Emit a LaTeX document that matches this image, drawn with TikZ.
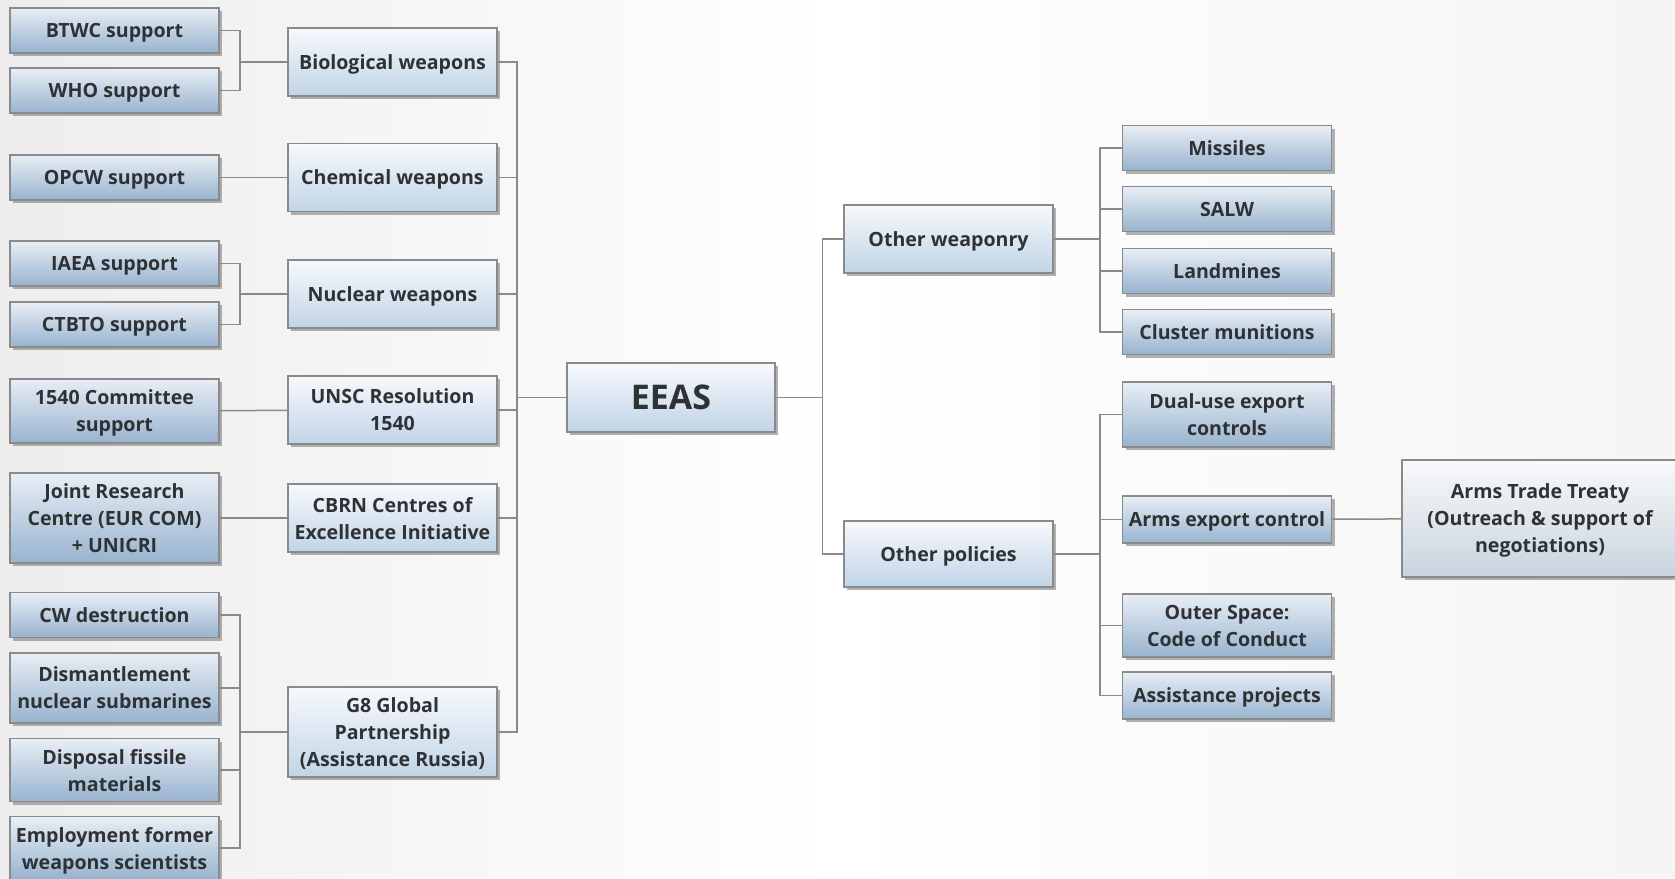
\documentclass[tikz,border=0pt]{standalone}
\usepackage{fontspec}
\setmainfont{Open Sans}
\usetikzlibrary{shadows}
\definecolor{eeasLine}{HTML}{8A8A8A}
\definecolor{eeasText}{HTML}{2F3235}
\definecolor{leafTop}{HTML}{E8EEF5}
\definecolor{leafBot}{HTML}{98B3CF}
\definecolor{midTop}{HTML}{F7F9FC}
\definecolor{midBot}{HTML}{C1D4E7}
\definecolor{treatyTop}{HTML}{F8F9FA}
\definecolor{treatyBot}{HTML}{C9D4DE}
\tikzset{
  box/.style={draw=eeasLine, line width=1.5pt, align=center, inner sep=2pt,
    font=\fontsize{19.6}{27}\selectfont\bfseries, text=eeasText, text depth=0pt,
    drop shadow={shadow xshift=3pt, shadow yshift=-3pt, fill=black!55, opacity=.55}},
  leaf/.style={box, top color=leafTop, bottom color=leafBot,
    minimum width=209pt, minimum height=45pt},
  mid/.style={box, top color=midTop, bottom color=midBot,
    minimum width=209pt, minimum height=68pt},
  treaty/.style={box, top color=treatyTop, bottom color=treatyBot,
    minimum width=276pt, minimum height=117pt},
  link/.style={draw=eeasLine, line width=1.5pt},
}

\begin{document}
\begin{tikzpicture}[x=1pt, y=-1pt]

  % ---- Background --------------------------------------------------------
  \shade[left color=black!7, right color=black!4, middle color=white]
    (0,0) rectangle (1675,878);
  \useasboundingbox (0,0) rectangle (1675,878);

  % ---- Left leaves -------------------------------------------------------
  \node[leaf] (btwc)  at (114.5,30.5)  {BTWC support};
  \node[leaf] (who)   at (114.5,90.5)  {WHO support};
  \node[leaf] (opcw)  at (114.5,177.5) {OPCW support};
  \node[leaf] (iaea)  at (114.5,263.5) {IAEA support};
  \node[leaf] (ctbto) at (114.5,324.5) {CTBTO support};
  \node[leaf, minimum height=64pt] (c1540) at (114.5,411) {1540 Committee\\support};
  \node[leaf, minimum height=90pt] (jrc)   at (114.5,518) {Joint Research\\Centre (EUR COM)\\+ UNICRI};
  \node[leaf] (cwd)   at (114.5,615)   {CW destruction};
  \node[leaf, minimum height=70pt] (dism)  at (114.5,688) {Dismantlement\\nuclear submarines};
  \node[leaf, minimum height=63pt] (disp)  at (114.5,770) {Disposal fissile\\materials};
  \node[leaf, minimum height=63pt] (emp)   at (114.5,848) {Employment former\\weapons scientists};

  % ---- Weapon groups -----------------------------------------------------
  \node[mid] (bio)  at (392.5,62)    {Biological weapons};
  \node[mid] (chem) at (392.5,177.5) {Chemical weapons};
  \node[mid] (nuc)  at (392.5,294)   {Nuclear weapons};
  \node[mid] (unsc) at (392.5,410)   {UNSC Resolution\\1540};
  \node[mid] (cbrn) at (392.5,518)   {CBRN Centres of\\Excellence Initiative};
  \node[mid, minimum height=90pt] (g8) at (392.5,732) {G8 Global\\Partnership\\(Assistance Russia)};

  % ---- Centre ------------------------------------------------------------
  \node[mid, minimum width=208pt, minimum height=69pt,
        font=\fontsize{34}{38}\selectfont\bfseries] (eeas) at (671,397.5) {EEAS};

  % ---- Right side --------------------------------------------------------
  \node[mid] (weap) at (948.5,239) {Other weaponry};
  \node[mid, minimum height=66pt] (pol) at (948.5,554) {Other policies};

  \node[leaf] (mis)    at (1227,148)   {Missiles};
  \node[leaf] (salw)   at (1227,209)   {SALW};
  \node[leaf] (land)   at (1227,271)   {Landmines};
  \node[leaf] (clus)   at (1227,332)   {Cluster munitions};
  \node[leaf, minimum height=65pt] (dual)   at (1227,414.5) {Dual-use export\\controls};
  \node[leaf, minimum height=47pt] (arms)   at (1227,519.5) {Arms export control};
  \node[leaf, minimum height=63pt] (outer)  at (1227,625.5) {Outer Space:\\Code of Conduct};
  \node[leaf, minimum height=47pt] (assist) at (1227,695.5) {Assistance projects};

  \node[treaty] (att) at (1540,518.5) {Arms Trade Treaty\\(Outreach \& support of\\negotiations)};

  % ---- Edges -------------------------------------------------------------
  \foreach \c in {btwc,who}
    \draw[link] (bio.west) -| ([xshift=20pt]\c.east) -- (\c.east);
  \draw[link] (opcw) -- (chem);
  \foreach \c in {iaea,ctbto}
    \draw[link] (nuc.west) -| ([xshift=20pt]\c.east) -- (\c.east);
  \draw[link] (c1540) -- (unsc);
  \draw[link] (jrc) -- (cbrn);
  \foreach \c in {cwd,dism,disp,emp}
    \draw[link] (g8.west) -| ([xshift=20pt]\c.east) -- (\c.east);

  % groups -> EEAS
  \foreach \m in {bio,chem,nuc,unsc,cbrn,g8}
    \draw[link] (eeas.west) -| ([xshift=19pt]\m.east) -- (\m.east);

  % EEAS -> right branches
  \foreach \m in {weap,pol}
    \draw[link] (eeas.east) -| ([xshift=-21pt]\m.west) -- (\m.west);
  \foreach \c in {mis,salw,land,clus}
    \draw[link] (weap.east) -| ([xshift=-22pt]\c.west) -- (\c.west);
  \foreach \c in {dual,arms,outer,assist}
    \draw[link] (pol.east) -| ([xshift=-22pt]\c.west) -- (\c.west);
  \draw[link] (arms) -- (att);

\end{tikzpicture}
\end{document}
